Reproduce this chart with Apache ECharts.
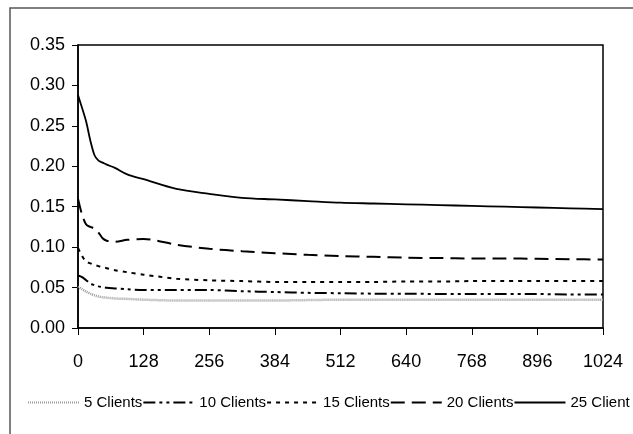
<!DOCTYPE html>
<html>
<head>
<meta charset="utf-8">
<script src="https://cdn.jsdelivr.net/npm/echarts@6/dist/echarts.min.js"></script>
<style>html,body{margin:0;padding:0;background:#fff;}#c{width:633px;height:434px;}</style>
</head>
<body>
<div id="c"></div>
<script>
const xs = [0, 8, 16, 24, 32, 40, 48, 56, 72, 96, 128, 192, 256, 320, 384, 448, 512, 576, 640, 704, 768, 832, 896, 960, 1024];
const seriesNames = ['5 Clients', '10 Clients', '15 Clients', '20 Clients', '25 Client'];
const c5  = [0.051, 0.048, 0.045, 0.0425, 0.0405, 0.039, 0.038, 0.0375, 0.0365, 0.036, 0.035, 0.034, 0.034, 0.034, 0.034, 0.0345, 0.035, 0.035, 0.035, 0.035, 0.035, 0.035, 0.035, 0.035, 0.035];
const c10 = [0.065, 0.063, 0.059, 0.055, 0.053, 0.0515, 0.0505, 0.0497, 0.049, 0.048, 0.047, 0.047, 0.047, 0.0455, 0.0445, 0.0435, 0.043, 0.0425, 0.0425, 0.042, 0.042, 0.042, 0.042, 0.0415, 0.0415];
const c15 = [0.099, 0.089, 0.082, 0.080, 0.078, 0.0765, 0.075, 0.074, 0.0715, 0.069, 0.066, 0.061, 0.059, 0.058, 0.057, 0.057, 0.057, 0.057, 0.0575, 0.0575, 0.058, 0.058, 0.058, 0.058, 0.058];
const c20 = [0.160, 0.140, 0.128, 0.125, 0.123, 0.118, 0.111, 0.108, 0.1066, 0.109, 0.110, 0.103, 0.098, 0.095, 0.0925, 0.0905, 0.089, 0.088, 0.087, 0.0865, 0.086, 0.086, 0.0855, 0.085, 0.0848];
const c25 = [0.288, 0.272, 0.255, 0.232, 0.214, 0.207, 0.2045, 0.202, 0.198, 0.190, 0.184, 0.172, 0.166, 0.161, 0.159, 0.157, 0.155, 0.154, 0.153, 0.152, 0.151, 0.150, 0.149, 0.148, 0.147];
const yTicks = [0, 0.35, 0.05];
const xTicks = [0, 1024, 128];

const font = "'Liberation Sans', Arial, sans-serif";
const pairs = arr => xs.map((x, i) => [x, arr[i]]);
const styles = [
  {color: '#9a9a9a', width: 2.5, type: [1, 1]},
  {color: '#000', width: 2, type: [12, 4, 3, 4, 3, 4]},
  {color: '#000', width: 2, type: [4, 5]},
  {color: '#000', width: 2, type: [14, 7]},
  {color: '#000', width: 1.8, type: 'solid'}
];
const datas = [c5, c10, c15, c20, c25];

const chart = echarts.init(document.getElementById('c'), null, {renderer: 'canvas'});
chart.setOption({
  animation: false,
  backgroundColor: '#fff',
  graphic: [{
    type: 'rect', silent: true,
    shape: {x: 10, y: 8, width: 700, height: 500},
    style: {fill: 'none', stroke: '#555', lineWidth: 1.5}
  }],
  grid: {left: 78, right: 30, top: 45, bottom: 106, show: true, borderColor: '#000', borderWidth: 1.5, backgroundColor: 'transparent'},
  legend: {
    left: 22, top: 390, width: 720, itemWidth: 51, itemHeight: 14, itemGap: 0,
    data: seriesNames,
    itemStyle: {opacity: 0},
    textStyle: {fontFamily: font, fontSize: 15, color: '#000'}
  },
  xAxis: {
    type: 'value', min: xTicks[0], max: xTicks[1], interval: xTicks[2],
    axisLine: {show: true, lineStyle: {color: '#000', width: 1.5}},
    axisTick: {show: true, length: 7, inside: false, lineStyle: {color: '#000', width: 1}},
    axisLabel: {fontFamily: font, fontSize: 18, color: '#000', margin: 25, formatter: v => String(v)},
    splitLine: {show: false}
  },
  yAxis: {
    type: 'value', min: yTicks[0], max: yTicks[1], interval: yTicks[2],
    axisLine: {show: true, lineStyle: {color: '#000', width: 1.5}},
    axisTick: {show: true, length: 6, inside: false, lineStyle: {color: '#000', width: 1}},
    axisLabel: {fontFamily: font, fontSize: 18, color: '#000', margin: 13, formatter: v => v.toFixed(2)},
    splitLine: {show: false}
  },
  series: datas.map((d, i) => ({
    name: seriesNames[i], type: 'line', data: pairs(d), symbol: 'none', smooth: 0.3,
    lineStyle: styles[i], itemStyle: {color: styles[i].color}
  }))
});
</script>
</body>
</html>
